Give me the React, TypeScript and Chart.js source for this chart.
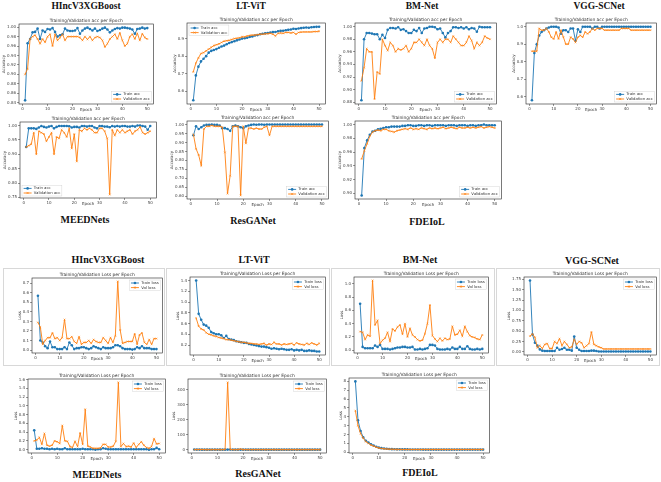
import React, { useEffect, useRef } from "react";
import { Chart, registerables } from "chart.js";
Chart.register(...registerables);

const epochs = Array.from({ length: 50 }, (_, i) => i + 1);
const xTicks = [0, 10, 20, 30, 40, 50];

// ---------- Accuracy data ----------
const hincAccTrain = [0.845, 0.966, 0.975, 0.989, 0.99, 0.997, 0.975, 0.993, 0.99, 0.996, 0.995, 0.998, 0.99, 0.98, 0.983, 0.985, 0.997, 0.993, 0.992, 0.992, 0.993, 0.998, 0.986, 0.993, 0.997, 0.999, 0.996, 0.993, 0.997, 0.992, 0.994, 0.997, 0.999, 0.995, 0.989, 0.993, 0.996, 0.998, 0.997, 0.999, 0.999, 0.998, 0.997, 0.995, 0.986, 0.996, 0.997, 0.999, 0.997, 0.998];
const hincAccVal = [0.9, 0.912, 0.975, 0.98, 0.983, 0.975, 0.965, 0.975, 0.968, 0.98, 0.985, 0.96, 0.985, 0.972, 0.978, 0.985, 0.972, 0.98, 0.98, 0.98, 0.98, 0.98, 0.978, 0.972, 0.98, 0.974, 0.98, 0.972, 0.978, 0.98, 0.978, 0.972, 0.958, 0.965, 0.975, 0.98, 0.985, 0.975, 0.988, 0.972, 0.96, 0.965, 0.98, 0.985, 0.975, 0.987, 0.972, 0.986, 0.978, 0.975];
const ltvitAccTrain = [0.548, 0.69, 0.74, 0.77, 0.785, 0.8, 0.82, 0.83, 0.835, 0.84, 0.848, 0.855, 0.86, 0.868, 0.875, 0.88, 0.885, 0.89, 0.895, 0.9, 0.902, 0.905, 0.91, 0.912, 0.918, 0.92, 0.925, 0.928, 0.93, 0.932, 0.935, 0.937, 0.938, 0.942, 0.944, 0.945, 0.948, 0.95, 0.952, 0.956, 0.955, 0.958, 0.96, 0.962, 0.963, 0.962, 0.965, 0.966, 0.967, 0.968];
const ltvitAccVal = [0.71, 0.76, 0.79, 0.815, 0.82, 0.83, 0.84, 0.85, 0.86, 0.865, 0.87, 0.878, 0.885, 0.888, 0.89, 0.895, 0.9, 0.902, 0.905, 0.91, 0.91, 0.915, 0.918, 0.92, 0.92, 0.922, 0.925, 0.925, 0.927, 0.928, 0.93, 0.925, 0.915, 0.93, 0.932, 0.93, 0.935, 0.935, 0.932, 0.935, 0.925, 0.935, 0.937, 0.938, 0.938, 0.938, 0.938, 0.94, 0.94, 0.942];
const bmAccTrain = [0.883, 0.98, 0.99, 0.99, 0.989, 0.988, 0.988, 0.98, 0.987, 0.982, 0.995, 0.998, 0.998, 0.997, 0.999, 0.995, 0.996, 0.993, 0.99, 0.99, 0.995, 0.993, 0.998, 0.99, 0.997, 0.998, 1.0, 1.0, 0.999, 0.996, 0.997, 0.99, 0.983, 0.99, 0.993, 0.999, 0.999, 0.998, 0.999, 0.997, 0.999, 0.996, 0.998, 0.997, 0.992, 1.0, 0.999, 0.999, 0.999, 0.999];
const bmAccVal = [0.914, 0.935, 0.965, 0.96, 0.96, 0.885, 0.928, 0.925, 0.98, 0.97, 0.962, 0.975, 0.97, 0.96, 0.965, 0.963, 0.965, 0.97, 0.96, 0.965, 0.975, 0.975, 0.98, 0.975, 0.97, 0.98, 0.97, 0.965, 0.95, 0.975, 0.98, 0.975, 0.98, 0.98, 0.975, 0.985, 0.98, 0.975, 0.97, 0.97, 0.975, 0.985, 0.978, 0.965, 0.975, 0.97, 0.975, 0.985, 0.982, 0.98];
const vggAccTrain = [0.58, 0.85, 0.9, 0.95, 0.97, 0.98, 0.99, 0.995, 1.0, 1.0, 1.0, 0.995, 0.96, 0.98, 0.98, 0.97, 0.99, 0.99, 0.92, 0.985, 0.97, 1.0, 1.0, 1.0, 1.0, 0.99, 1.0, 1.0, 0.99, 1.0, 1.0, 1.0, 1.0, 1.0, 1.0, 1.0, 1.0, 1.0, 1.0, 1.0, 1.0, 1.0, 1.0, 1.0, 1.0, 1.0, 1.0, 1.0, 1.0, 1.0];
const vggAccVal = [0.86, 0.86, 0.86, 0.99, 0.98, 0.98, 0.99, 0.97, 0.94, 0.93, 0.97, 0.93, 0.98, 0.94, 0.9, 0.9, 0.94, 0.93, 0.91, 0.94, 0.95, 0.94, 0.97, 0.96, 0.97, 0.99, 0.98, 0.99, 0.99, 0.99, 0.98, 0.98, 0.98, 0.98, 0.98, 0.98, 0.98, 0.99, 0.99, 0.99, 0.99, 0.98, 0.98, 0.98, 0.98, 0.98, 0.98, 0.98, 0.98, 0.98];
const meedAccTrain = [0.925, 0.99, 0.99, 0.99, 0.988, 0.993, 0.998, 0.995, 0.993, 0.996, 0.998, 0.99, 0.995, 0.998, 0.998, 0.998, 0.998, 0.997, 0.993, 0.995, 0.995, 0.993, 0.998, 0.998, 0.996, 0.998, 0.998, 0.993, 0.99, 0.998, 0.998, 0.996, 0.996, 0.994, 0.998, 0.996, 0.998, 0.996, 0.998, 0.998, 0.996, 0.996, 0.998, 0.996, 1.0, 1.0, 0.998, 0.996, 0.985, 0.998];
const meedAccVal = [0.925, 0.93, 0.935, 0.975, 0.9, 0.98, 0.975, 0.97, 0.945, 0.96, 0.975, 0.9, 0.96, 0.955, 0.985, 0.975, 0.96, 0.99, 0.92, 0.97, 0.875, 0.985, 0.98, 0.99, 0.985, 0.99, 0.985, 0.975, 0.975, 0.99, 0.99, 0.98, 0.955, 0.76, 0.985, 0.965, 0.985, 0.975, 0.985, 0.975, 0.98, 0.985, 0.97, 0.98, 0.985, 0.995, 0.975, 0.97, 0.975, 0.98];
const resAccTrain = [0.94, 0.99, 0.975, 0.985, 0.995, 0.998, 0.998, 1.0, 0.998, 0.998, 0.995, 0.98, 0.98, 0.975, 0.965, 0.99, 0.995, 0.99, 0.985, 0.98, 0.99, 0.995, 0.998, 1.0, 0.999, 1.0, 1.0, 0.999, 1.0, 1.0, 1.0, 1.0, 1.0, 1.0, 1.0, 1.0, 1.0, 1.0, 1.0, 1.0, 1.0, 1.0, 1.0, 1.0, 1.0, 1.0, 1.0, 1.0, 1.0, 1.0];
const resAccVal = [0.945, 0.865, 0.83, 0.77, 0.975, 0.99, 0.99, 0.995, 0.99, 0.99, 0.99, 0.985, 0.845, 0.615, 0.715, 0.99, 0.99, 0.99, 0.605, 0.99, 0.895, 0.98, 0.98, 0.975, 0.98, 0.975, 0.975, 0.985, 0.99, 0.94, 0.99, 0.99, 0.99, 0.99, 0.99, 0.99, 0.99, 0.99, 0.99, 0.99, 0.99, 0.99, 0.99, 0.99, 0.99, 0.99, 0.99, 0.99, 0.99, 0.99];
const fdeAccTrain = [0.897, 0.966, 0.977, 0.985, 0.99, 0.991, 0.993, 0.994, 0.995, 0.996, 0.996, 0.997, 0.997, 0.997, 0.997, 0.998, 0.998, 0.999, 0.999, 0.998, 0.998, 0.999, 0.999, 0.998, 0.999, 0.999, 0.998, 0.999, 0.999, 0.999, 0.999, 0.998, 0.999, 0.999, 0.999, 0.998, 0.999, 0.999, 0.999, 0.998, 0.999, 0.999, 0.998, 0.999, 0.999, 1.0, 0.999, 0.999, 0.999, 0.999];
const fdeAccVal = [0.95, 0.962, 0.972, 0.983, 0.989, 0.991, 0.992, 0.991, 0.993, 0.993, 0.991, 0.99, 0.989, 0.991, 0.992, 0.993, 0.994, 0.993, 0.995, 0.993, 0.994, 0.993, 0.995, 0.994, 0.993, 0.995, 0.994, 0.995, 0.994, 0.995, 0.996, 0.994, 0.995, 0.996, 0.995, 0.994, 0.996, 0.995, 0.995, 0.996, 0.995, 0.996, 0.995, 0.996, 0.997, 0.995, 0.996, 0.997, 0.996, 0.995];

// ---------- Loss data ----------
const hincLossTrain = [0.57, 0.1, 0.08, 0.04, 0.02, 0.09, 0.03, 0.03, 0.01, 0.01, 0.01, 0.03, 0.01, 0.08, 0.05, 0.01, 0.02, 0.02, 0.03, 0.03, 0.02, 0.01, 0.02, 0.04, 0.03, 0.02, 0.01, 0.03, 0.02, 0.02, 0.02, 0.03, 0.05, 0.05, 0.04, 0.02, 0.01, 0.01, 0.01, 0.005, 0.01, 0.03, 0.02, 0.04, 0.02, 0.02, 0.02, 0.01, 0.01, 0.01];
const hincLossVal = [0.29, 0.24, 0.06, 0.1, 0.13, 0.13, 0.18, 0.12, 0.13, 0.1, 0.13, 0.32, 0.12, 0.12, 0.14, 0.09, 0.07, 0.14, 0.06, 0.08, 0.08, 0.1, 0.07, 0.11, 0.09, 0.08, 0.08, 0.13, 0.1, 0.07, 0.13, 0.08, 0.15, 0.72, 0.21, 0.07, 0.08, 0.09, 0.09, 0.09, 0.17, 0.06, 0.16, 0.18, 0.08, 0.06, 0.11, 0.06, 0.12, 0.12];
const ltvitLossTrain = [1.4, 0.78, 0.67, 0.58, 0.56, 0.52, 0.44, 0.42, 0.4, 0.4, 0.38, 0.33, 0.37, 0.31, 0.3, 0.29, 0.27, 0.26, 0.25, 0.24, 0.24, 0.22, 0.21, 0.2, 0.19, 0.18, 0.17, 0.17, 0.16, 0.15, 0.13, 0.14, 0.13, 0.12, 0.13, 0.12, 0.11, 0.11, 0.12, 0.1, 0.11, 0.1, 0.11, 0.09, 0.09, 0.1, 0.09, 0.09, 0.08, 0.08];
const ltvitLossVal = [0.7, 0.55, 0.5, 0.48, 0.43, 0.4, 0.39, 0.37, 0.36, 0.34, 0.33, 0.32, 0.3, 0.3, 0.29, 0.28, 0.27, 0.26, 0.25, 0.25, 0.24, 0.23, 0.23, 0.22, 0.22, 0.21, 0.22, 0.23, 0.2, 0.22, 0.21, 0.25, 0.22, 0.22, 0.2, 0.22, 0.21, 0.22, 0.23, 0.2, 0.24, 0.22, 0.21, 0.2, 0.23, 0.21, 0.24, 0.22, 0.2, 0.23];
const bmLossTrain = [0.7, 0.05, 0.03, 0.03, 0.03, 0.03, 0.07, 0.05, 0.08, 0.02, 0.02, 0.02, 0.01, 0.02, 0.03, 0.04, 0.04, 0.05, 0.05, 0.04, 0.04, 0.05, 0.01, 0.01, 0.02, 0.01, 0.02, 0.03, 0.08, 0.08, 0.07, 0.02, 0.01, 0.01, 0.01, 0.02, 0.01, 0.04, 0.02, 0.02, 0.05, 0.02, 0.02, 0.06, 0.02, 0.01, 0.01, 0.02, 0.01, 0.02];
const bmLossVal = [0.28, 0.27, 0.16, 0.23, 0.21, 1.05, 0.38, 0.45, 0.1, 0.15, 0.18, 0.27, 0.13, 0.32, 0.29, 0.35, 0.38, 0.24, 0.4, 0.2, 0.33, 0.23, 0.2, 0.16, 0.14, 0.15, 0.25, 0.4, 0.68, 0.22, 0.17, 0.13, 0.18, 0.14, 0.18, 0.16, 0.17, 0.36, 0.23, 0.24, 0.3, 0.21, 0.36, 0.28, 0.22, 0.2, 0.19, 0.17, 0.16, 0.23];
const vggLossTrain = [1.72, 0.42, 0.22, 0.15, 0.06, 0.03, 0.02, 0.02, 0.02, 0.02, 0.02, 0.1, 0.05, 0.07, 0.1, 0.05, 0.05, 0.03, 0.37, 0.1, 0.05, 0.02, 0.02, 0.02, 0.02, 0.03, 0.03, 0.02, 0.01, 0.01, 0.01, 0.01, 0.01, 0.01, 0.01, 0.01, 0.01, 0.01, 0.01, 0.01, 0.01, 0.01, 0.01, 0.01, 0.01, 0.01, 0.01, 0.01, 0.01, 0.01];
const vggLossVal = [0.38, 0.43, 0.35, 0.1, 0.15, 0.08, 0.18, 0.2, 0.08, 0.08, 0.25, 0.2, 0.32, 0.15, 0.25, 0.18, 0.1, 0.12, 0.3, 0.18, 0.25, 0.22, 0.1, 0.15, 0.2, 0.48, 0.18, 0.15, 0.12, 0.1, 0.07, 0.07, 0.07, 0.07, 0.07, 0.07, 0.07, 0.07, 0.07, 0.07, 0.07, 0.07, 0.07, 0.07, 0.07, 0.07, 0.07, 0.07, 0.07, 0.07];
const meedLossTrain = [0.44, 0.02, 0.02, 0.03, 0.02, 0.02, 0.01, 0.02, 0.01, 0.02, 0.01, 0.01, 0.03, 0.01, 0.01, 0.01, 0.01, 0.01, 0.01, 0.02, 0.01, 0.01, 0.01, 0.01, 0.0, 0.01, 0.01, 0.03, 0.02, 0.01, 0.01, 0.01, 0.01, 0.01, 0.01, 0.01, 0.01, 0.01, 0.01, 0.01, 0.01, 0.01, 0.01, 0.01, 0.01, 0.0, 0.01, 0.01, 0.04, 0.01];
const meedLossVal = [0.2, 0.22, 0.28, 0.12, 0.37, 0.1, 0.08, 0.1, 0.2, 0.18, 0.14, 0.55, 0.2, 0.19, 0.07, 0.05, 0.19, 0.07, 0.38, 0.12, 0.92, 0.08, 0.06, 0.03, 0.03, 0.03, 0.04, 0.12, 0.12, 0.06, 0.06, 0.08, 0.19, 1.535, 0.07, 0.14, 0.07, 0.08, 0.06, 0.15, 0.05, 0.12, 0.18, 0.1, 0.05, 0.03, 0.07, 0.25, 0.13, 0.14];
const resLossTrain = [0.45, 0.1, 0.12, 0.08, 0.05, 0.03, 0.02, 0.02, 0.02, 0.03, 0.04, 0.06, 0.08, 0.1, 0.09, 0.04, 0.03, 0.03, 0.05, 0.05, 0.03, 0.02, 0.01, 0.01, 0.01, 0.01, 0.01, 0.01, 0.01, 0.01, 0.01, 0.01, 0.01, 0.01, 0.01, 0.01, 0.01, 0.01, 0.01, 0.01, 0.01, 0.01, 0.01, 0.01, 0.01, 0.01, 0.01, 0.01, 0.01, 0.01];
const resLossVal = [0.2, 0.5, 0.6, 0.9, 0.1, 0.05, 0.04, 0.03, 0.04, 0.05, 0.05, 0.06, 0.5, 450, 1.2, 0.05, 0.04, 0.05, 4.0, 0.05, 0.4, 0.08, 0.07, 0.08, 0.07, 0.08, 0.08, 0.06, 0.05, 0.2, 0.05, 0.04, 0.04, 0.04, 0.04, 0.04, 0.04, 0.04, 0.04, 0.04, 0.04, 0.04, 0.04, 0.04, 0.04, 0.04, 0.04, 0.04, 0.04, 0.04];
const fdeLossTrain = [8.0, 3.6, 2.4, 1.7, 1.3, 1.1, 0.9, 0.75, 0.62, 0.52, 0.46, 0.42, 0.39, 0.37, 0.35, 0.34, 0.33, 0.33, 0.32, 0.32, 0.32, 0.31, 0.31, 0.31, 0.31, 0.31, 0.3, 0.3, 0.3, 0.3, 0.3, 0.3, 0.3, 0.3, 0.3, 0.3, 0.3, 0.3, 0.3, 0.3, 0.3, 0.3, 0.3, 0.3, 0.3, 0.3, 0.3, 0.3, 0.3, 0.3];
const fdeLossVal = [4.7, 3.0, 2.1, 1.6, 1.2, 1.0, 0.82, 0.7, 0.57, 0.48, 0.43, 0.39, 0.37, 0.35, 0.34, 0.33, 0.32, 0.32, 0.31, 0.31, 0.31, 0.31, 0.31, 0.31, 0.31, 0.31, 0.31, 0.31, 0.31, 0.31, 0.31, 0.31, 0.31, 0.31, 0.31, 0.31, 0.31, 0.31, 0.31, 0.31, 0.31, 0.31, 0.31, 0.31, 0.31, 0.31, 0.31, 0.31, 0.31, 0.31];

// ---------- Tick labels ----------
const ticksHincAcc = ["0.84", "0.86", "0.88", "0.90", "0.92", "0.94", "0.96", "0.98", "1.00"];
const ticksLtvitAcc = ["0.6", "0.7", "0.8", "0.9", "1.0"];
const ticksBmAcc = ["0.88", "0.90", "0.92", "0.94", "0.96", "0.98", "1.00"];
const ticksVggAcc = ["0.6", "0.7", "0.8", "0.9", "1.0"];
const ticksMeedAcc = ["0.75", "0.80", "0.85", "0.90", "0.95", "1.00"];
const ticksResAcc = ["0.60", "0.65", "0.70", "0.75", "0.80", "0.85", "0.90", "0.95", "1.00"];
const ticksFdeAcc = ["0.90", "0.92", "0.94", "0.96", "0.98", "1.00"];
const ticksHincLoss = ["0.0", "0.1", "0.2", "0.3", "0.4", "0.5", "0.6", "0.7"];
const ticksLtvitLoss = ["0.2", "0.4", "0.6", "0.8", "1.0", "1.2", "1.4"];
const ticksBmLoss = ["0.0", "0.2", "0.4", "0.6", "0.8", "1.0"];
const ticksVggLoss = ["0.00", "0.25", "0.50", "0.75", "1.00", "1.25", "1.50", "1.75"];
const ticksMeedLoss = ["0.0", "0.2", "0.4", "0.6", "0.8", "1.0", "1.2", "1.4", "1.6"];
const ticksResLoss = ["0", "100", "200", "300", "400"];
const ticksFdeLoss = ["0", "1", "2", "3", "4", "5", "6", "7", "8"];

const ACC_TITLE = "Training/Validation acc per Epoch";
const LOSS_TITLE = "Training/Validation Loss per Epoch";
const ACC_NAMES: [string, string] = ["Train acc", "Validation acc"];
const LOSS_NAMES: [string, string] = ["Train loss", "Val loss"];

const BLUE = "#1f77b4";
const ORANGE = "#ff7f0e";
const FONT = '"DejaVu Sans", sans-serif';

type Spec = {
  train: number[];
  val: number[];
  yTicks: string[];
  yTitle: string;
  title: string;
  names: [string, string];
  legend: "lr" | "ul" | "ur" | "ll";
  plot: [number, number, number, number];
};

const specs: Spec[] = [
  { train: hincAccTrain, val: hincAccVal, yTicks: ticksHincAcc, yTitle: "Accuracy", title: ACC_TITLE, names: ACC_NAMES, legend: "lr", plot: [19, 24, 155, 104] },
  { train: ltvitAccTrain, val: ltvitAccVal, yTicks: ticksLtvitAcc, yTitle: "Accuracy", title: ACC_TITLE, names: ACC_NAMES, legend: "ul", plot: [187, 23, 327, 104] },
  { train: bmAccTrain, val: bmAccVal, yTicks: ticksBmAcc, yTitle: "Accuracy", title: ACC_TITLE, names: ACC_NAMES, legend: "lr", plot: [355, 23, 498, 104] },
  { train: vggAccTrain, val: vggAccVal, yTicks: ticksVggAcc, yTitle: "Accuracy", title: ACC_TITLE, names: ACC_NAMES, legend: "lr", plot: [526, 23, 658, 104] },
  { train: meedAccTrain, val: meedAccVal, yTicks: ticksMeedAcc, yTitle: "Accuracy", title: ACC_TITLE, names: ACC_NAMES, legend: "ll", plot: [20, 122, 158, 198] },
  { train: resAccTrain, val: resAccVal, yTicks: ticksResAcc, yTitle: "Accuracy", title: ACC_TITLE, names: ACC_NAMES, legend: "lr", plot: [187, 121, 330, 199] },
  { train: fdeAccTrain, val: fdeAccVal, yTicks: ticksFdeAcc, yTitle: "Accuracy", title: ACC_TITLE, names: ACC_NAMES, legend: "lr", plot: [355, 121, 503, 199] },
  { train: hincLossTrain, val: hincLossVal, yTicks: ticksHincLoss, yTitle: "Loss", title: LOSS_TITLE, names: LOSS_NAMES, legend: "ur", plot: [32, 278, 164, 353] },
  { train: ltvitLossTrain, val: ltvitLossVal, yTicks: ticksLtvitLoss, yTitle: "Loss", title: LOSS_TITLE, names: LOSS_NAMES, legend: "ur", plot: [190, 277, 327, 355] },
  { train: bmLossTrain, val: bmLossVal, yTicks: ticksBmLoss, yTitle: "Loss", title: LOSS_TITLE, names: LOSS_NAMES, legend: "ur", plot: [354, 277, 490, 353] },
  { train: vggLossTrain, val: vggLossVal, yTicks: ticksVggLoss, yTitle: "Loss", title: LOSS_TITLE, names: LOSS_NAMES, legend: "ur", plot: [524, 277, 658, 355] },
  { train: meedLossTrain, val: meedLossVal, yTicks: ticksMeedLoss, yTitle: "Loss", title: LOSS_TITLE, names: LOSS_NAMES, legend: "ur", plot: [28, 379, 167, 453] },
  { train: resLossTrain, val: resLossVal, yTicks: ticksResLoss, yTitle: "Loss", title: LOSS_TITLE, names: LOSS_NAMES, legend: "ur", plot: [188, 379, 328, 453] },
  { train: fdeLossTrain, val: fdeLossVal, yTicks: ticksFdeLoss, yTitle: "Loss", title: LOSS_TITLE, names: LOSS_NAMES, legend: "ur", plot: [349, 378, 491, 453] },
];

// Model names: [text, centerX, centerY, fontSize]
const modelLabels: [string, number, number, number][] = [
  ["HIncV3XGBoost", 86, 7, 9.5],
  ["LT-ViT", 251, 7, 9.5],
  ["BM-Net", 422, 7, 9.5],
  ["VGG-SCNet", 599, 7, 9.5],
  ["MEEDNets", 85, 220, 10],
  ["ResGANet", 253, 221, 10],
  ["FDEIoL", 427, 222, 10],
  ["HIncV3XGBoost", 108, 260, 10],
  ["LT-ViT", 254, 260, 10],
  ["BM-Net", 420, 260, 10],
  ["VGG-SCNet", 592, 261, 10],
  ["MEEDNets", 97, 475, 10],
  ["ResGANet", 258, 474, 10],
  ["FDEIoL", 420, 473, 10],
];

// light frames around the loss panels of the third row
const frames: [number, number, number, number][] = [
  [3, 268, 165, 366],
  [166, 268, 330, 366],
  [331, 268, 495, 366],
  [496, 268, 660, 366],
];

function Mini({ s }: { s: Spec }) {
  const ref = useRef<HTMLCanvasElement>(null);
  const [pl, pt, pr, pb] = s.plot;
  const cl = Math.max(0, Math.round(pl - 20));
  const ct = Math.round(pt - 7);
  const cr = Math.min(661, Math.round(pr + 3));
  const cb = Math.round(pb + 10);
  const W = cr - cl;
  const H = cb - ct;

  useEffect(() => {
    const all = [...s.train, ...s.val];
    const lo = Math.min(...all);
    const hi = Math.max(...all);
    const m = (hi - lo) * 0.05;
    const ymin = lo - m;
    const ymax = hi + m;
    const yVals = s.yTicks.map(Number).filter((v) => v >= ymin - 1e-9 && v <= ymax + 1e-9);
    const labelOf = (v: number) => {
      const i = s.yTicks.findIndex((t) => Math.abs(Number(t) - v) < 1e-9);
      return i >= 0 ? s.yTicks[i] : String(v);
    };

    const decor = {
      id: "decor",
      afterDraw(chart: any) {
        const ctx = chart.ctx as CanvasRenderingContext2D;
        const a = chart.chartArea;
        ctx.save();
        ctx.strokeStyle = "#222";
        ctx.lineWidth = 0.6;
        ctx.strokeRect(a.left, a.top, a.right - a.left, a.bottom - a.top);
        ctx.fillStyle = "#333";
        ctx.textAlign = "center";
        ctx.textBaseline = "bottom";
        ctx.font = `4.4px ${FONT}`;
        ctx.fillText(s.title, (a.left + a.right) / 2, a.top - 1.2);
        ctx.font = `4px ${FONT}`;
        ctx.textBaseline = "middle";
        ctx.fillText("Epoch", (a.left + a.right) / 2, a.bottom + 6.4);
        let mw = 0;
        for (const v of yVals) mw = Math.max(mw, ctx.measureText(labelOf(v)).width);
        ctx.save();
        ctx.translate(a.left - mw - 6, (a.top + a.bottom) / 2);
        ctx.rotate(-Math.PI / 2);
        ctx.fillText(s.yTitle, 0, 0);
        ctx.restore();

        // legend
        ctx.font = `3.8px ${FONT}`;
        const tw = Math.max(...s.names.map((n) => ctx.measureText(n).width));
        const lineLen = 8, padX = 1.6, gap = 2.2, rowH = 4.6;
        const bw = padX + lineLen + gap + tw + padX;
        const bh = rowH * 2 + 1.4;
        const bx = s.legend[1] === "r" ? a.right - bw - 2 : a.left + 2;
        const by = s.legend[0] === "l" ? a.bottom - bh - 2 : a.top + 2;
        ctx.fillStyle = "rgba(255,255,255,0.85)";
        ctx.strokeStyle = "#cccccc";
        ctx.lineWidth = 0.4;
        ctx.fillRect(bx, by, bw, bh);
        ctx.strokeRect(bx, by, bw, bh);
        const colors = [BLUE, ORANGE];
        for (let i = 0; i < 2; i++) {
          const cy = by + 0.7 + rowH * (i + 0.5);
          const x0 = bx + padX, x1 = x0 + lineLen, xc = (x0 + x1) / 2;
          ctx.strokeStyle = colors[i];
          ctx.lineWidth = 0.9;
          ctx.beginPath();
          ctx.moveTo(x0, cy);
          ctx.lineTo(x1, cy);
          ctx.stroke();
          if (i === 0) {
            ctx.fillStyle = BLUE;
            ctx.beginPath();
            ctx.arc(xc, cy, 1.3, 0, Math.PI * 2);
            ctx.fill();
          } else {
            ctx.lineWidth = 0.6;
            ctx.beginPath();
            ctx.moveTo(xc - 1.1, cy - 1.1);
            ctx.lineTo(xc + 1.1, cy + 1.1);
            ctx.moveTo(xc - 1.1, cy + 1.1);
            ctx.lineTo(xc + 1.1, cy - 1.1);
            ctx.stroke();
          }
          ctx.fillStyle = "#333";
          ctx.textAlign = "left";
          ctx.textBaseline = "middle";
          ctx.fillText(s.names[i], x1 + gap, cy);
        }
        ctx.restore();
      },
    };

    const tickFont = { size: 4, family: FONT };
    const chart = new Chart(ref.current as HTMLCanvasElement, {
      type: "line",
      data: {
        datasets: [
          {
            label: s.names[0],
            data: epochs.map((x, i) => ({ x, y: s.train[i] })),
            borderColor: BLUE,
            backgroundColor: BLUE,
            pointBackgroundColor: BLUE,
            pointBorderColor: BLUE,
            borderWidth: 0.9,
            pointRadius: 1.3,
            pointStyle: "circle",
            pointBorderWidth: 0,
            tension: 0,
            order: 1,
          },
          {
            label: s.names[1],
            data: epochs.map((x, i) => ({ x, y: s.val[i] })),
            borderColor: ORANGE,
            backgroundColor: ORANGE,
            pointBackgroundColor: ORANGE,
            pointBorderColor: ORANGE,
            borderWidth: 0.9,
            pointRadius: 1.2,
            pointStyle: "crossRot",
            pointBorderWidth: 0.6,
            tension: 0,
            order: 0,
          },
        ],
      },
      options: {
        animation: false,
        responsive: false,
        maintainAspectRatio: false,
        devicePixelRatio: 1,
        layout: { padding: { left: 0, top: pt - ct, right: cr - pr, bottom: 0 } },
        plugins: { legend: { display: false }, title: { display: false }, tooltip: { enabled: false } },
        events: [],
        scales: {
          x: {
            type: "linear",
            min: -1.45,
            max: 52.45,
            afterBuildTicks: (sc: any) => {
              sc.ticks = xTicks.map((v) => ({ value: v }));
            },
            afterFit: (sc: any) => {
              sc.height = cb - pb;
            },
            grid: { drawOnChartArea: false, drawTicks: true, tickLength: 2, color: "#333", lineWidth: 0.5 },
            border: { display: false },
            ticks: { font: tickFont, color: "#444", padding: 0.5, maxRotation: 0, minRotation: 0, autoSkip: false, callback: (v: any) => String(v) },
          },
          y: {
            type: "linear",
            min: ymin,
            max: ymax,
            afterBuildTicks: (sc: any) => {
              sc.ticks = yVals.map((v) => ({ value: v }));
            },
            afterFit: (sc: any) => {
              sc.width = pl - cl;
            },
            grid: { drawOnChartArea: false, drawTicks: true, tickLength: 2, color: "#333", lineWidth: 0.5 },
            border: { display: false },
            ticks: { font: tickFont, color: "#444", padding: 1, autoSkip: false, callback: (v: any) => labelOf(Number(v)) },
          },
        },
      } as any,
      plugins: [decor],
    });
    return () => chart.destroy();
  }, []);

  return (
    <canvas
      ref={ref}
      width={W}
      height={H}
      style={{ position: "absolute", left: cl, top: ct, width: W, height: H }}
    />
  );
}

export default function App() {
  return (
    <div
      style={{
        position: "absolute",
        left: 0,
        top: 0,
        width: 661,
        height: 482,
        overflow: "hidden",
        background: "#ffffff",
      }}
    >
      {frames.map(([x0, y0, x1, y1], i) => (
        <div
          key={"f" + i}
          style={{
            position: "absolute",
            left: x0,
            top: y0,
            width: x1 - x0,
            height: y1 - y0,
            border: "1px solid #d8d8d8",
            boxSizing: "border-box",
          }}
        />
      ))}
      {specs.map((s, i) => (
        <Mini key={i} s={s} />
      ))}
      {modelLabels.map(([t, cx, cy, fs], i) => (
        <div
          key={"t" + i}
          style={{
            position: "absolute",
            left: cx - 100,
            width: 200,
            top: cy - fs * 0.6,
            height: fs * 1.2,
            lineHeight: `${fs * 1.2}px`,
            textAlign: "center",
            fontFamily: '"Liberation Serif", "Times New Roman", serif',
            fontWeight: "bold",
            fontSize: fs,
            color: "#111",
            whiteSpace: "nowrap",
          }}
        >
          {t}
        </div>
      ))}
    </div>
  );
}
